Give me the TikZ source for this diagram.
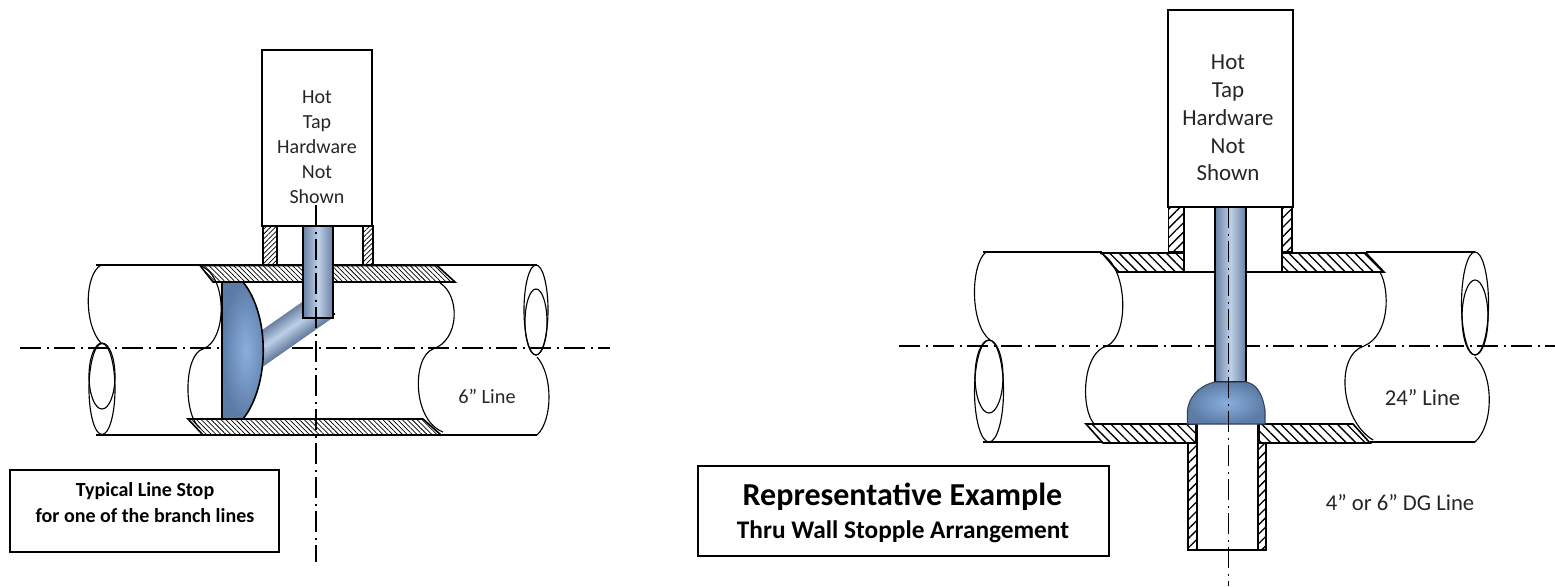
\documentclass[tikz,border=0pt]{standalone}
\usepackage{fontspec}
\setmainfont{Carlito}
\usetikzlibrary{patterns.meta}

\tikzset{every picture/.style={line width=0.75pt}}
\definecolor{discedge}{RGB}{92,124,166}
\definecolor{disclight}{RGB}{138,174,222}
\definecolor{stemedge}{RGB}{104,128,162}
\definecolor{stemlight}{RGB}{190,208,232}
\tikzset{
  pipeline/.style={line width=0.85pt},
  heavyline/.style={line width=1.2pt},
  centerline/.style={line width=0.9pt,dash pattern={on 16pt off 4pt on 1.5pt off 4pt}},
  finehatch/.style={heavyline,pattern={Lines[angle=135,distance=2.6pt,line width=0.55pt]}},
  finehatchb/.style={heavyline,pattern={Lines[angle=45,distance=2.6pt,line width=0.55pt]}},
  widehatch/.style={heavyline,pattern={Lines[angle=135,distance=5pt,line width=1pt]}},
  widehatchb/.style={heavyline,pattern={Lines[angle=45,distance=5pt,line width=1pt]}},
  whitebox/.style={heavyline,fill=white},
  stemshade/.style={heavyline,left color=stemedge,right color=stemedge,middle color=stemlight},
  discshade/.style={heavyline,inner color=disclight,outer color=discedge},
  hardwaretext/.style={align=center,inner sep=0pt,text=black!85,font=\fontsize{15}{18.75}\selectfont},
  linetext/.style={inner sep=0pt,text=black!85,font=\fontsize{17}{20}\selectfont},
}

\begin{document}
\begin{tikzpicture}[x=0.75pt,y=0.75pt,yscale=-1,xscale=1]
\useasboundingbox (0,0) rectangle (1555,586);

%Left pipe: outer lines
\draw [pipeline] (96,265) -- (537,265);
\draw [pipeline] (96,435) -- (537,435);
%Left pipe: broken ends
\draw [pipeline] (101,265) .. controls (84,275) and (84,325) .. (101,343);
\draw [pipeline] (198,265) .. controls (228,272) and (228,340) .. (203,349) .. controls (184,354) and (183,415) .. (200,428);
\draw [pipeline] (440,283) .. controls (460,295) and (460,340) .. (433,349) .. controls (412,357) and (412,420) .. (443,432);
\draw [pipeline] (537,357) .. controls (553,375) and (553,420) .. (537,435);
%Left pipe: end ellipses
\draw [pipeline] (102,389) ellipse (13 and 45.5);
\draw [pipeline] (102,376) ellipse (13 and 33);
\draw [pipeline] (536,310) ellipse (12 and 45);
\draw [pipeline] (536,322) ellipse (11 and 33);

%Left center line
\draw [centerline] (20,348) -- (610,348);

%Left walls
\draw [finehatch] (200,265.5) -- (437,265.5) -- (455,282) -- (213,282) -- cycle;
\draw [finehatch] (188,419) -- (423,419) -- (441,435) -- (203,435) -- cycle;
\draw [finehatchb] (263,226) rectangle (277,265);
\draw [finehatchb] (363,226) rectangle (373,265);

%Left hardware box
\draw [whitebox] (262,50) rectangle (372,226);
\node [hardwaretext] (hardwareleft) at (317,147) {Hot\\Tap\\Hardware\\Not\\Shown};

%Left stopper arm and disc
\begin{scope}[shift={(263,348)},rotate=-35]
\foreach \k in {0,...,29} {
  \pgfmathsetmacro\armmix{100*abs(\k-14.5)/14.5}
  \draw [stemedge!\armmix!stemlight,line width=1.1pt] (-13,\k-14.5) -- (75,\k-14.5);
}
\end{scope}
\draw [discshade] (222,282) -- (243,282) .. controls (270,315) and (270,385) .. (243,419) -- (222,419) -- cycle;
\draw [stemshade] (303,226) rectangle (333,318);
\draw [pipeline] (333,314) -- (335,314);

%Left vertical center line
\draw [centerline] (316,205) -- (316,562);
\node [linetext,font=\fontsize{15.2}{18}\selectfont] (lineleft) at (487,396) {6” Line};

%Left title box
\node [draw,line width=1.1pt,minimum width=201.75pt,minimum height=61.5pt,inner sep=0pt] (titleleft) at (144.5,511) {};
\node [align=center,inner sep=0pt,font=\fontsize{15}{19.5}\selectfont\bfseries] (subtitleleft) at (145,503) {Typical Line Stop\\for one of the branch lines};

%Right pipe: outer lines
\draw [pipeline] (983,252) -- (1102,252);
\draw [pipeline] (1366,252) -- (1475,252);
\draw [pipeline] (983,442) -- (1103,442);
\draw [pipeline] (1370,442) -- (1475,442);
%Right pipe: broken ends
\draw [pipeline] (986,252) .. controls (970,265) and (970,325) .. (990,340);
\draw [pipeline] (1100,253) .. controls (1128,265) and (1130,335) .. (1107,346) .. controls (1082,352) and (1080,410) .. (1095,425);
\draw [pipeline] (1380,272) .. controls (1390,290) and (1390,335) .. (1364,346) .. controls (1335,355) and (1340,420) .. (1373,440);
\draw [pipeline] (1475,357) .. controls (1494,375) and (1494,425) .. (1475,442);
%Right pipe: end ellipses
\draw [pipeline] (989,391) ellipse (14.5 and 51);
\draw [pipeline] (989,376.5) ellipse (14 and 36.5);
\draw [pipeline] (1475,303.5) ellipse (13.5 and 51.5);
\draw [pipeline] (1475,317.5) ellipse (13 and 37.5);

%Right center line
\draw [centerline] (899,346) -- (1555,346);

%Right walls
\draw [widehatch] (1102,253) -- (1184,253) -- (1184,272) -- (1118,272) -- cycle;
\draw [widehatch] (1282,253) -- (1366,253) -- (1384,272) -- (1282,272) -- cycle;
\draw [widehatch] (1086,424) -- (1196,424) -- (1196,443) -- (1103,443) -- cycle;
\draw [widehatch] (1259,424) -- (1353,424) -- (1370,443) -- (1259,443) -- cycle;
\draw [widehatchb] (1168.5,207) rectangle (1184,252);
\draw [widehatchb] (1282,207) rectangle (1292,252);
\draw [widehatchb] (1188,443) rectangle (1197,550);
\draw [widehatchb] (1258,443) rectangle (1266,550);
\draw [heavyline] (1184,207) -- (1184,272) -- (1282,272) -- (1282,207);
\draw [heavyline] (1197,424) -- (1197,550);
\draw [heavyline] (1258,424) -- (1258,550);
\draw [heavyline] (1188,550) -- (1266,550);

%Right hardware box
\draw [whitebox] (1168,10) rectangle (1293,207);
\node [hardwaretext,font=\fontsize{17.2}{20.8}\selectfont] (hardwareright) at (1228,118) {Hot\\Tap\\Hardware\\Not\\Shown};

%Right stopper stem and dome
\draw [stemshade] (1215,207) rectangle (1246,382);
\draw [discshade,draw=discedge!55!black,line width=0.8pt] (1187.5,424) -- (1187.5,410) .. controls (1190,392) and (1205,384) .. (1215,382) -- (1246,382) .. controls (1256,384) and (1262,392) .. (1265,410) -- (1265,424) -- cycle;

%Right vertical center line
\draw [centerline] (1228.5,207) -- (1228.5,586);
\node [linetext] (lineright) at (1422.5,398) {24” Line};
\node [linetext] (branchright) at (1400,503) {4” or 6” DG Line};

%Right title box
\draw [line width=1.1pt] (698,466) rectangle (1109,556);
\node [inner sep=0pt,font=\fontsize{24}{28}\selectfont\bfseries] (titleright) at (902.5,497) {Representative Example};
\node [inner sep=0pt,font=\fontsize{19}{23}\selectfont\bfseries] (subtitleright) at (903,532) {Thru Wall Stopple Arrangement};

\end{tikzpicture}
\end{document}
